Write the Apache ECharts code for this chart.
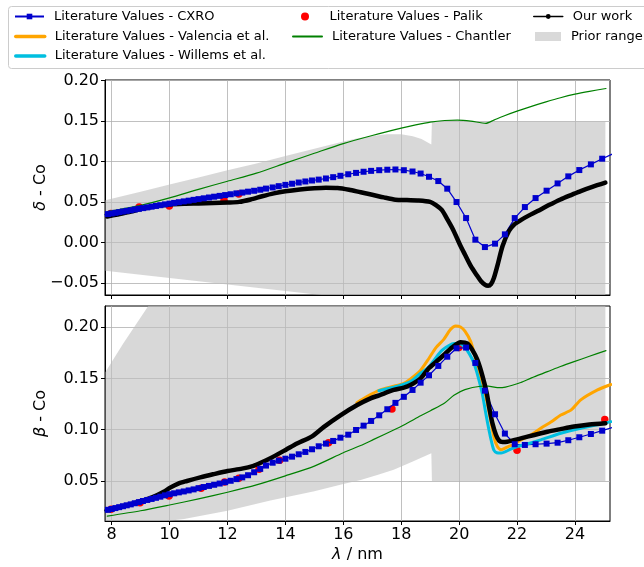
<!DOCTYPE html>
<html>
<head>
<meta charset="utf-8">
<title>Co optical constants</title>
<script src="https://cdn.jsdelivr.net/npm/echarts@6/dist/echarts.min.js"></script>
<style>
  html, body { margin: 0; padding: 0; background: #fff; }
  #chart { width: 644px; height: 567px; }
</style>
</head>
<body>
<div id="chart"></div>
<script>
// Wavelength grid (nm) of the CXRO tabulation
const cxroWavelength = [7.75, 7.87, 8.00, 8.13, 8.26, 8.39, 8.52, 8.66, 8.80, 8.94, 9.08, 9.23, 9.38, 9.53, 9.68, 9.84,
  10.00, 10.16, 10.32, 10.49, 10.66, 10.83, 11.00, 11.18, 11.36, 11.54, 11.73, 11.92, 12.11, 12.31, 12.51, 12.71, 12.92,
  13.13, 13.33, 13.56, 13.77, 14.00, 14.23, 14.46, 14.69, 14.92, 15.15, 15.40, 15.65, 15.90, 16.17, 16.44, 16.70, 16.96,
  17.24, 17.52, 17.80, 18.09, 18.39, 18.67, 18.96, 19.28, 19.59, 19.91, 20.24, 20.56, 20.89, 21.24, 21.58, 21.92, 22.27,
  22.64, 23.02, 23.40, 23.77, 24.15, 24.55, 24.94, 25.35];
const cxroDelta = [0.0342, 0.0349, 0.0357, 0.0365, 0.0373, 0.0381, 0.0389, 0.0397, 0.0406, 0.0414, 0.0423, 0.0432, 0.0441, 0.0450, 0.0459, 0.0469,
  0.0478, 0.0487, 0.0496, 0.0506, 0.0515, 0.0525, 0.0534, 0.0544, 0.0554, 0.0564, 0.0574, 0.0584, 0.0594, 0.0605, 0.0615, 0.0626, 0.0637,
  0.0650, 0.0664, 0.0678, 0.0694, 0.0710, 0.0724, 0.0739, 0.0752, 0.0764, 0.0775, 0.0789, 0.0805, 0.0822, 0.0841, 0.0858, 0.0872, 0.0883,
  0.0891, 0.0897, 0.0900, 0.0891, 0.0875, 0.0850, 0.0810, 0.0757, 0.0663, 0.0498, 0.0300, 0.0033, -0.0058, -0.0016, 0.0099, 0.0300, 0.0436,
  0.0547, 0.0638, 0.0728, 0.0815, 0.0893, 0.0963, 0.1033, 0.1100];
const cxroBeta = [0.0211, 0.0219, 0.0227, 0.0236, 0.0245, 0.0254, 0.0263, 0.0272, 0.0283, 0.0294, 0.0305, 0.0315, 0.0325, 0.0336, 0.0347, 0.0360,
  0.0371, 0.0380, 0.0389, 0.0398, 0.0408, 0.0418, 0.0430, 0.0441, 0.0452, 0.0463, 0.0475, 0.0488, 0.0502, 0.0518, 0.0535, 0.0556, 0.0585,
  0.0618, 0.0650, 0.0678, 0.0698, 0.0717, 0.0737, 0.0760, 0.0783, 0.0809, 0.0838, 0.0864, 0.0890, 0.0922, 0.0951, 0.0997, 0.1039, 0.1085,
  0.1140, 0.1199, 0.1261, 0.1320, 0.1387, 0.1458, 0.1530, 0.1621, 0.1711, 0.1793, 0.1800, 0.1650, 0.1380, 0.1150, 0.0962, 0.0858, 0.0851,
  0.0858, 0.0864, 0.0873, 0.0897, 0.0926, 0.0958, 0.0990, 0.1025];

// Palik
const palikDeltaWavelength = [7.97, 8.95, 9.99, 11.09, 11.88, 12.39];
const palikDelta = [0.0355, 0.0436, 0.0448, 0.0518, 0.0520, 0.0596];
const palikBetaWavelength = [7.98, 8.98, 9.98, 11.09, 11.90, 12.39, 13.09, 13.80, 15.49, 17.68, 19.99, 22.00, 25.03];
const palikBeta = [0.0224, 0.0289, 0.0354, 0.0429, 0.0490, 0.0526, 0.0614, 0.0702, 0.0873, 0.1202, 0.1800, 0.0800, 0.1100];

// Valencia et al. (beta only)
const valenciaWavelength = [16.47, 16.80, 17.28, 17.70, 18.09, 18.30, 18.67, 18.96, 19.20, 19.47, 19.70, 19.88, 20.05, 20.20, 20.40,
  20.57, 20.75, 20.90, 21.05, 21.20, 21.32, 21.45, 21.66, 21.90, 22.13, 22.47, 22.82, 23.20, 23.51, 23.86, 24.20, 24.78, 25.24];
const valenciaBeta = [0.1263, 0.1320, 0.1387, 0.1420, 0.1452, 0.1490, 0.1580, 0.1696, 0.1800, 0.1880, 0.1975, 0.2010, 0.2000, 0.1960, 0.1858,
  0.1690, 0.1500, 0.1350, 0.1150, 0.0930, 0.0835, 0.0805, 0.0830, 0.0860, 0.0900, 0.0948, 0.1014, 0.1080, 0.1143, 0.1190, 0.1290, 0.1387, 0.1440];

// Willems et al. (beta only)
const willemsWavelength = [17.23, 17.74, 18.32, 18.67, 18.96, 19.36, 19.65, 19.82, 20.00, 20.17, 20.35, 20.51, 20.65, 20.80, 20.92,
  21.03, 21.12, 21.20, 21.30, 21.45, 21.78, 22.01, 22.47, 22.82, 23.51, 24.20, 24.90, 25.24];
const willemsBeta = [0.1380, 0.1413, 0.1468, 0.1550, 0.1614, 0.1760, 0.1820, 0.1840, 0.1840, 0.1810, 0.1740, 0.1647, 0.1520, 0.1350, 0.1160,
  0.0997, 0.0880, 0.0800, 0.0775, 0.0772, 0.0810, 0.0835, 0.0870, 0.0900, 0.0965, 0.1014, 0.1056, 0.1078];

// Chantler
const chantlerDeltaWavelength = [7.85, 9.00, 10.00, 11.00, 12.00, 13.00, 14.00, 15.00, 16.00, 17.00, 18.00, 18.50, 19.00, 19.50, 19.94,
  20.40, 20.92, 21.20, 21.50, 22.00, 22.50, 23.00, 23.50, 24.00, 24.50, 25.07];
const chantlerDelta = [0.0380, 0.0457, 0.0550, 0.0655, 0.0755, 0.0855, 0.0978, 0.1100, 0.1220, 0.1320, 0.1410, 0.1450, 0.1485, 0.1505, 0.1510,
  0.1498, 0.1470, 0.1510, 0.1555, 0.1620, 0.1680, 0.1735, 0.1786, 0.1830, 0.1865, 0.1900];
const chantlerBetaWavelength = [7.85, 9.00, 10.00, 11.00, 12.00, 13.00, 14.00, 15.00, 16.00, 16.60, 17.05, 17.74, 18.09, 18.67, 19.01,
  19.50, 19.82, 20.20, 20.74, 21.00, 21.32, 21.60, 22.13, 22.50, 23.05, 23.50, 23.97, 24.50, 25.07];
const chantlerBeta = [0.0158, 0.0210, 0.0266, 0.0325, 0.0390, 0.0462, 0.0550, 0.0645, 0.0775, 0.0845, 0.0905, 0.0997, 0.1046, 0.1135, 0.1185,
  0.1260, 0.1335, 0.1390, 0.1423, 0.1425, 0.1410, 0.1415, 0.1460, 0.1505, 0.1565, 0.1615, 0.1663, 0.1715, 0.1770];

// Our work
const ourDeltaWavelength = [7.85, 8.20, 8.60, 9.00, 9.50, 10.00, 10.50, 11.00, 11.50, 12.00, 12.40, 12.80, 13.20, 13.60, 14.00, 14.50,
  15.00, 15.40, 15.80, 16.20, 16.60, 17.00, 17.40, 17.80, 18.20, 18.60, 19.00, 19.20, 19.40, 19.60, 19.80, 20.05, 20.20, 20.40, 20.60,
  20.75, 20.90, 21.00, 21.10, 21.20, 21.32, 21.50, 21.72, 21.90, 22.13, 22.40, 22.71, 23.10, 23.50, 23.90, 24.20, 24.60, 25.05];
const ourDelta = [0.0320, 0.0345, 0.0375, 0.0410, 0.0445, 0.0467, 0.0476, 0.0480, 0.0485, 0.0492, 0.0500, 0.0530, 0.0570, 0.0605, 0.0630, 0.0652,
  0.0668, 0.0675, 0.0672, 0.0650, 0.0618, 0.0588, 0.0555, 0.0527, 0.0522, 0.0518, 0.0500, 0.0460, 0.0400, 0.0280, 0.0150, -0.0045, -0.0150,
  -0.0290, -0.0400, -0.0477, -0.0525, -0.0535, -0.0515, -0.0440, -0.0290, -0.0045, 0.0140, 0.0220, 0.0275, 0.0330, 0.0386, 0.0460, 0.0530,
  0.0590, 0.0634, 0.0685, 0.0737];
const ourBetaWavelength = [7.83, 8.30, 8.98, 9.30, 9.56, 9.80, 10.02, 10.30, 10.60, 11.06, 11.50, 12.00, 12.50, 12.90, 13.13, 13.50,
  14.02, 14.40, 14.92, 15.32, 15.90, 16.48, 16.94, 17.24, 17.74, 18.09, 18.32, 18.67, 18.96, 19.20, 19.47, 19.75, 20.05, 20.28, 20.45,
  20.63, 20.80, 20.95, 21.05, 21.15, 21.27, 21.38, 21.50, 21.66, 22.00, 22.36, 23.05, 23.50, 23.97, 24.50, 25.05];
const ourBeta = [0.0214, 0.0245, 0.0300, 0.0330, 0.0360, 0.0395, 0.0435, 0.0475, 0.0500, 0.0535, 0.0565, 0.0597, 0.0620, 0.0648, 0.0675, 0.0725,
  0.0805, 0.0865, 0.0935, 0.1025, 0.1140, 0.1240, 0.1305, 0.1335, 0.1387, 0.1410, 0.1436, 0.1500, 0.1600, 0.1660, 0.1728, 0.1800, 0.1852,
  0.1840, 0.1780, 0.1680, 0.1530, 0.1360, 0.1200, 0.1062, 0.0950, 0.0893, 0.0880, 0.0883, 0.0905, 0.0932, 0.0980, 0.1005, 0.1030, 0.1050, 0.1062];

// Prior range used for the fits
const priorDeltaWavelength = [7.78, 9.00, 10.00, 11.00, 12.00, 13.00, 14.00, 15.00, 16.00, 16.50, 17.00, 17.50, 18.00, 18.40, 18.70, 19.04, 19.06, 25.05];
const priorDeltaHigh = [0.052, 0.0625, 0.0715, 0.080, 0.089, 0.0975, 0.1065, 0.1155, 0.1245, 0.1285, 0.1315, 0.1335, 0.1335, 0.131, 0.1275, 0.121, 0.150, 0.150];
const priorDeltaLow = [-0.035, -0.040, -0.044, -0.048, -0.052, -0.056, -0.060, -0.064, -0.068, -0.070, -0.072, -0.074, -0.076, -0.078, -0.079, -0.080, -0.100, -0.100];
const priorBetaWavelength = [7.78, 8.40, 9.30, 10.50, 12.00, 13.48, 15.00, 16.00, 16.60, 17.20, 17.74, 18.40, 19.04, 19.06, 25.05];
const priorBetaHigh = [0.156, 0.184, 0.222, 0.27, 0.33, 0.40, 0.45, 0.48, 0.50, 0.52, 0.54, 0.56, 0.58, 0.25, 0.25];
const priorBetaLow = [0.004, 0.006, 0.009, 0.013, 0.021, 0.031, 0.040, 0.047, 0.051, 0.056, 0.061, 0.069, 0.077, 0.050, 0.050];

// Tick positions
const wavelengthTicks = [8, 10, 12, 14, 16, 18, 20, 22, 24];
const deltaTicks = [-0.05, 0.00, 0.05, 0.10, 0.15, 0.20];
const betaTicks = [0.05, 0.10, 0.15, 0.20];

const FONT = 'DejaVu Sans';
const BAND = 'rgba(190,190,190,0.6)';
const BAND_LEGEND = '#d9d9d9';

const zip = (xs, ys) => xs.map((x, i) => [x, ys[i]]);
const fmt2 = v => (v < 0 ? '\u2212' : '') + Math.abs(v).toFixed(2);

const chart = echarts.init(document.getElementById('chart'), null, { renderer: 'canvas' });

function xAxisFor(gridIndex, withLabels) {
  return {
    type: 'value', gridIndex, min: 7.77, max: 25.21,
    name: withLabels ? '{g|\u03bb} / nm' : '',
    nameLocation: 'middle', nameGap: 26,
    nameTextStyle: { fontFamily: FONT, fontSize: 16, color: '#000', rich: { g: { fontFamily: FONT, fontSize: 16, fontStyle: 'italic', color: '#000' } } },
    axisLine: { show: true, onZero: false, lineStyle: { color: '#000', width: 1 } },
    axisTick: { show: true, length: 4, customValues: wavelengthTicks, lineStyle: { color: '#000', width: 1 } },
    axisLabel: { show: withLabels, customValues: wavelengthTicks, margin: 6, fontFamily: FONT, fontSize: 16, color: '#000' },
    splitLine: { show: true, lineStyle: { color: '#b0b0b0', width: 0.8 } }
  };
}

function yAxisFor(gridIndex, min, max, ticks, nameChar) {
  return {
    type: 'value', gridIndex, min, max,
    name: '{g|' + nameChar + '} - Co',
    nameLocation: 'middle', nameRotate: 90, nameGap: 56, nameMoveOverlap: false,
    nameTextStyle: { fontFamily: FONT, fontSize: 16, color: '#000', rich: { g: { fontFamily: FONT, fontSize: 16, fontStyle: 'italic', color: '#000' } } },
    axisLine: { show: true, onZero: false, lineStyle: { color: '#000', width: 1 } },
    axisTick: { show: true, length: 4, customValues: ticks, lineStyle: { color: '#000', width: 1 } },
    axisLabel: { customValues: ticks, margin: 6, fontFamily: FONT, fontSize: 16, color: '#000', formatter: fmt2 },
    splitLine: { show: true, lineStyle: { color: '#b0b0b0', width: 0.8 } }
  };
}

function bandSeries(idx, xs, lo, hi) {
  return {
    type: 'custom', name: 'Prior range', xAxisIndex: idx, yAxisIndex: idx,
    clip: true, z: 1, silent: true,
    itemStyle: { color: BAND_LEGEND },
    data: [[16, 0.1]],
    renderItem: function (params, api) {
      const pts = [];
      for (let i = 0; i < xs.length; i++) pts.push(api.coord([xs[i], hi[i]]));
      for (let i = xs.length - 1; i >= 0; i--) pts.push(api.coord([xs[i], lo[i]]));
      return { type: 'polygon', shape: { points: pts }, style: { fill: BAND } };
    }
  };
}

function cxroSeries(idx, values) {
  return {
    type: 'line', name: 'Literature Values - CXRO', xAxisIndex: idx, yAxisIndex: idx,
    data: zip(cxroWavelength, values), clip: true,
    symbol: 'rect', symbolSize: 6, showSymbol: true,
    itemStyle: { color: '#0000cd' }, lineStyle: { color: '#0000cd', width: 1.2 }
  };
}

function curve(idx, name, xs, ys, color, width) {
  return {
    type: 'line', name, xAxisIndex: idx, yAxisIndex: idx,
    data: zip(xs, ys), clip: true, smooth: 0.25,
    symbol: 'none', showSymbol: false,
    itemStyle: { color }, lineStyle: { color, width, cap: 'round', join: 'round' }
  };
}

function palikSeries(idx, xs, ys) {
  return {
    type: 'scatter', name: 'Literature Values - Palik', xAxisIndex: idx, yAxisIndex: idx,
    data: zip(xs, ys), clip: true, symbol: 'circle', symbolSize: 7.5,
    itemStyle: { color: '#ff0000', opacity: 1 }
  };
}

function ourSeries(idx, xs, ys) {
  return {
    type: 'line', name: 'Our work', xAxisIndex: idx, yAxisIndex: idx,
    data: zip(xs, ys), clip: true, smooth: 0.25,
    symbol: 'circle', symbolSize: 5, showSymbol: false,
    itemStyle: { color: '#000' }, lineStyle: { color: '#000', width: 4.5, cap: 'round', join: 'round' }
  };
}

const legendText = { fontFamily: FONT, fontSize: 13, color: '#000', lineHeight: 16, padding: [0, 0, 0, 5] };
function legendItem(name, left, rowCenter, w, h, extra) {
  return Object.assign({
    show: true, left, top: rowCenter - 8, orient: 'vertical', padding: 0,
    itemWidth: w, itemHeight: h, selectedMode: false,
    textStyle: legendText, data: [name]
  }, extra || {});
}

const option = {
  animation: false,
  backgroundColor: '#fff',
  grid: [
    { left: 105, top: 80, width: 505, height: 215, show: true, borderColor: '#000', borderWidth: 1, backgroundColor: 'transparent' },
    { left: 105, top: 306, width: 505, height: 215, show: true, borderColor: '#000', borderWidth: 1, backgroundColor: 'transparent' }
  ],
  xAxis: [xAxisFor(0, false), xAxisFor(1, true)],
  yAxis: [
    yAxisFor(0, -0.065, 0.2005, deltaTicks, '\u03b4'),
    yAxisFor(1, 0.011, 0.2205, betaTicks, '\u03b2')
  ],
  graphic: [{
    type: 'rect', z: 0, silent: true,
    shape: { x: 8.5, y: 6.5, width: 660, height: 62, r: 3 },
    style: { fill: '#fff', stroke: '#cccccc', lineWidth: 1 }
  }],
  legend: [
    legendItem('Literature Values - CXRO', 14, 16.5, 29, 7),
    legendItem('Literature Values - Valencia et al.', 14, 36.5, 29, 1, { data: [{ name: 'Literature Values - Valencia et al.', lineStyle: { width: 3.5 } }] }),
    legendItem('Literature Values - Willems et al.', 14, 56, 29, 1, { data: [{ name: 'Literature Values - Willems et al.', lineStyle: { width: 3.5 } }] }),
    legendItem('Literature Values - Palik', 301, 16.5, 29, 8),
    legendItem('Literature Values - Chantler', 292, 36.5, 29, 1),
    legendItem('Our work', 533, 16.5, 29, 6, { data: [{ name: 'Our work', lineStyle: { width: 1.5 } }] }),
    legendItem('Prior range', 535, 36.5, 26, 9, { data: [{ name: 'Prior range', icon: 'rect' }] })
  ],
  series: [
    bandSeries(0, priorDeltaWavelength, priorDeltaLow, priorDeltaHigh),
    bandSeries(1, priorBetaWavelength, priorBetaLow, priorBetaHigh),
    cxroSeries(0, cxroDelta),
    cxroSeries(1, cxroBeta),
    curve(1, 'Literature Values - Valencia et al.', valenciaWavelength, valenciaBeta, '#ffa500', 3),
    curve(1, 'Literature Values - Willems et al.', willemsWavelength, willemsBeta, '#00bfe0', 3),
    palikSeries(0, palikDeltaWavelength, palikDelta),
    palikSeries(1, palikBetaWavelength, palikBeta),
    curve(0, 'Literature Values - Chantler', chantlerDeltaWavelength, chantlerDelta, '#008000', 1.2),
    curve(1, 'Literature Values - Chantler', chantlerBetaWavelength, chantlerBeta, '#008000', 1.2),
    ourSeries(0, ourDeltaWavelength, ourDelta),
    ourSeries(1, ourBetaWavelength, ourBeta)
  ]
};

chart.setOption(option);
</script>
</body>
</html>
